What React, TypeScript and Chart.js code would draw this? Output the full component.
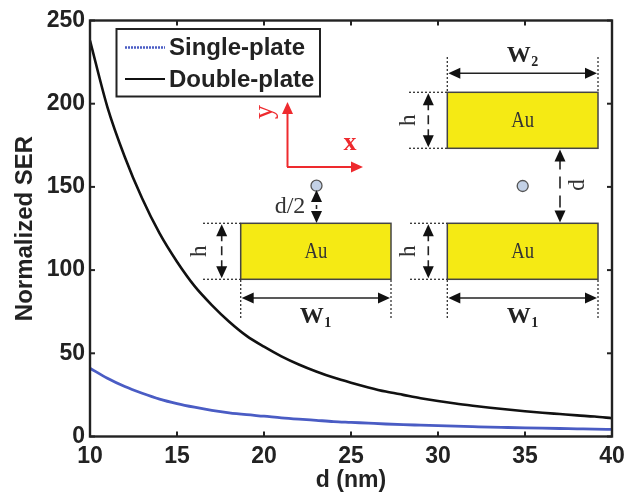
import React, { useEffect, useRef } from "react";
import { Chart, registerables } from "chart.js";

Chart.register(...registerables);

const distances = [10,11,12,13,14,15,16,17,18,19,20,21,22,23,24,25,26,27,28,29,30,31,32,33,34,35,36,37,38,39,40];
const singlePlate = [41,35,30,26,22.5,19.8,17.6,15.7,14.2,13.1,12.2,11.2,10.4,9.7,9,8.5,8,7.5,7.1,6.8,6.5,6.2,5.9,5.6,5.4,5.2,5,4.8,4.6,4.4,4.3];
const doublePlate = [238,198,168,143,122,105,90.5,79,69,60.5,54,48.2,43.3,39.1,35.4,32.3,29.5,27,25,23,21.3,19.8,18.5,17.3,16.2,15.2,14.3,13.5,12.7,12,11];
const seriesLabels = ["Single-plate", "Double-plate"];
const seriesColors = ["#4a5cc4", "#111111"];

const SANS = "'Liberation Sans', Arial, sans-serif";
const SERIF = "'Liberation Serif', serif";
const INK = "#222222";

type Ctx = CanvasRenderingContext2D;

function head(c: Ctx, x: number, y: number, dx: number, dy: number, color = "#111") {
  const L = 12, W = 5.5;
  c.save();
  c.fillStyle = color;
  c.beginPath();
  c.moveTo(x, y);
  c.lineTo(x - dx * L - dy * W, y - dy * L - dx * W);
  c.lineTo(x - dx * L + dy * W, y - dy * L + dx * W);
  c.closePath();
  c.fill();
  c.restore();
}

function line(c: Ctx, x1: number, y1: number, x2: number, y2: number, width = 1.5, color = "#222", dash: number[] = []) {
  c.save();
  c.strokeStyle = color;
  c.lineWidth = width;
  c.setLineDash(dash);
  c.beginPath();
  c.moveTo(x1, y1);
  c.lineTo(x2, y2);
  c.stroke();
  c.restore();
}

function doubleV(c: Ctx, x: number, y1: number, y2: number, dash: number[]) {
  line(c, x, y1 + 8, x, y2 - 8, 1.6, "#222", dash);
  head(c, x, y1, 0, -1);
  head(c, x, y2, 0, 1);
}

function doubleH(c: Ctx, x1: number, x2: number, y: number) {
  line(c, x1 + 8, y, x2 - 8, y, 1.5);
  head(c, x1, y, -1, 0);
  head(c, x2, y, 1, 0);
}

function txt(c: Ctx, s: string, x: number, y: number, font: string, color = "#333", rot = 0, sx = 1) {
  c.save();
  c.translate(x, y);
  c.rotate(rot);
  c.scale(sx, 1);
  c.font = font;
  c.fillStyle = color;
  c.textAlign = "center";
  c.textBaseline = "middle";
  c.fillText(s, 0, 0);
  c.restore();
}

function plate(c: Ctx, l: number, r: number, t: number, b: number) {
  c.save();
  c.fillStyle = "#f5ea14";
  c.strokeStyle = "#444";
  c.lineWidth = 1.5;
  c.fillRect(l, t, r - l, b - t);
  c.strokeRect(l, t, r - l, b - t);
  c.restore();
  txt(c, "Au", (l + r) / 2, (t + b) / 2, `24px ${SERIF}`, "#333", 0, 0.78);
}

function heightMark(c: Ctx, left: number, ax: number, tx: number, dotFrom: number, t: number, b: number) {
  line(c, dotFrom, t, left, t, 1.3, "#333", [2, 2]);
  line(c, dotFrom, b, left, b, 1.3, "#333", [2, 2]);
  doubleV(c, ax, t + 1, b - 1, [9, 5]);
  txt(c, "h", tx, (t + b) / 2, `23px ${SERIF}`, "#333", -Math.PI / 2);
}

function width(c: Ctx, l: number, r: number, arrowY: number, y1: number, y2: number, textY: number, sub: string) {
  line(c, l, y1, l, y2, 1.3, "#333", [2, 2]);
  line(c, r, y1, r, y2, 1.3, "#333", [2, 2]);
  doubleH(c, l + 1, r - 1, arrowY);
  const mid = (l + r) / 2;
  txt(c, "W", mid - 4, textY, `bold 24px ${SERIF}`, "#222");
  txt(c, sub, mid + 12, textY + 6, `bold 14px ${SERIF}`, "#222");
}

function particle(c: Ctx, x: number, y: number) {
  c.save();
  c.beginPath();
  c.arc(x, y, 5.5, 0, Math.PI * 2);
  c.fillStyle = "#c3d1e6";
  c.fill();
  c.strokeStyle = "#555";
  c.lineWidth = 1.3;
  c.stroke();
  c.restore();
}

const framePlugin = {
  id: "frame",
  afterDatasetsDraw(chart: any) {
    const c: Ctx = chart.ctx;
    const { left, right, top, bottom } = chart.chartArea;
    const TL = 5;
    c.save();
    chart.scales.x.ticks.forEach((t: any) => {
      const x = chart.scales.x.getPixelForValue(t.value);
      line(c, x, bottom, x, bottom - TL, 2, "#222");
      line(c, x, top, x, top + TL, 2, "#222");
    });
    chart.scales.y.ticks.forEach((t: any) => {
      const y = chart.scales.y.getPixelForValue(t.value);
      line(c, left, y, left + TL, y, 2, "#222");
      line(c, right, y, right - TL, y, 2, "#222");
    });
    c.strokeStyle = "#222";
    c.lineWidth = 2.4;
    c.strokeRect(left, top, right - left, bottom - top);

    // legend box
    c.fillStyle = "#fff";
    c.fillRect(116.5, 29, 203.5, 67.5);
    c.strokeStyle = "#222";
    c.lineWidth = 2;
    c.strokeRect(116.5, 29, 203.5, 67.5);
    chart.data.datasets.forEach((ds: any, i: number) => {
      const y = 47.5 + i * 31.5;
      line(c, 125, y, 165, y, i === 0 ? 2.5 : 2.2, ds.borderColor, i === 0 ? [2, 1] : []);
      c.font = `bold 24px ${SANS}`;
      c.fillStyle = INK;
      c.textAlign = "left";
      c.textBaseline = "middle";
      c.fillText(ds.label, 169, y + 1);
    });
    c.restore();

    // coordinate axes
    const red = "#ee2a2e";
    line(c, 287.5, 167, 287.5, 112, 2, red);
    line(c, 287, 167, 352, 167, 2, red);
    head(c, 287.5, 102, 0, -1, red);
    head(c, 363, 167, 1, 0, red);
    txt(c, "y", 265, 112, `28px ${SERIF}`, red, -Math.PI / 2);
    txt(c, "x", 350, 143, `bold 26px ${SERIF}`, red);

    // single-plate sketch
    plate(c, 240.7, 391, 223.3, 279.3);
    heightMark(c, 240.7, 221.7, 200, 203, 223.3, 279.3);
    width(c, 240.7, 391, 298, 280, 318, 317, "1");
    particle(c, 316.5, 185.7);
    doubleV(c, 316.5, 190, 223, [4, 3]);
    txt(c, "d/2", 290, 207, `24px ${SERIF}`, "#333");

    // double-plate sketch
    plate(c, 447.3, 598, 92.3, 148.3);
    plate(c, 447.3, 598, 223.3, 279.3);
    heightMark(c, 447.3, 428.3, 409, 409, 92.3, 148.3);
    heightMark(c, 447.3, 428.3, 409, 410, 223.3, 279.3);
    width(c, 447.3, 598, 73.3, 57, 92, 56, "2");
    width(c, 447.3, 598, 298, 280, 318, 317, "1");
    particle(c, 522.7, 186);
    doubleV(c, 560, 149.5, 222.5, [12, 7]);
    txt(c, "d", 578, 185, `23px ${SERIF}`, "#333", -Math.PI / 2);
  },
};

export default function App() {
  const ref = useRef<HTMLCanvasElement>(null);
  useEffect(() => {
    document.body.style.margin = "0";
    document.body.style.background = "#fff";
    const chart = new Chart(ref.current!, {
      type: "line",
      data: {
        datasets: [
          { label: seriesLabels[0], data: distances.map((x, i) => ({ x, y: singlePlate[i] })), borderColor: seriesColors[0], borderWidth: 2.8, pointRadius: 0, cubicInterpolationMode: "monotone" },
          { label: seriesLabels[1], data: distances.map((x, i) => ({ x, y: doublePlate[i] })), borderColor: seriesColors[1], borderWidth: 2.6, pointRadius: 0, cubicInterpolationMode: "monotone" },
        ],
      },
      options: {
        responsive: false,
        animation: false,
        devicePixelRatio: 1,
        layout: { padding: { top: 20.5, right: 29, bottom: 0, left: 0 } },
        plugins: { legend: { display: false }, tooltip: { enabled: false } },
        scales: {
          x: {
            type: "linear",
            min: 10,
            max: 40,
            grid: { display: false, drawTicks: false },
            border: { display: false },
            ticks: { stepSize: 5, padding: 6, maxRotation: 0, color: INK, font: { family: SANS, weight: "bold", size: 23 } },
            title: { display: true, text: "d (nm)", color: INK, padding: { top: 0, bottom: -2 }, font: { family: SANS, weight: "bold", size: 23 } },
            afterFit(s: any) { s.height = 55.5; },
          },
          y: {
            min: 0,
            max: 250,
            grid: { display: false, drawTicks: false },
            border: { display: false },
            ticks: { stepSize: 50, padding: 5, color: INK, font: { family: SANS, weight: "bold", size: 23 } },
            title: { display: true, text: "Normalized SER", color: INK, padding: { top: 10.5, bottom: 0 }, font: { family: SANS, weight: "bold", size: 24 } },
            afterFit(s: any) { s.width = 90; },
          },
        },
      },
      plugins: [framePlugin],
    } as any);
    return () => chart.destroy();
  }, []);
  return (
    <canvas
      ref={ref}
      width={641}
      height={492}
      style={{ position: "fixed", left: 0, top: 0, width: 641, height: 492, filter: "blur(0.5px)" }}
    />
  );
}
